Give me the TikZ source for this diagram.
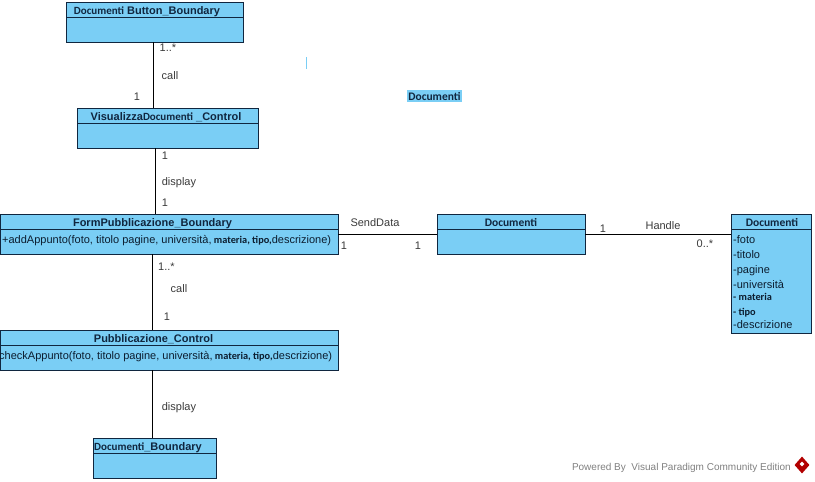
\documentclass[tikz,border=0pt]{standalone}
\usepackage{fontspec}
\setmainfont{Liberation Sans}
\newfontfamily\carl{Carlito}
\usetikzlibrary{shapes.geometric}
\definecolor{umlblue}{HTML}{7ACEF5}
\definecolor{umlink}{HTML}{10263F}
\definecolor{umlgrey}{HTML}{3A3A3A}
\tikzset{
  classbox/.style={draw=umlink,fill=umlblue,line width=0.9pt,inner sep=0pt,minimum height=40pt},
  classhead/.style={draw=umlink,line width=0.9pt,inner sep=0pt,minimum height=15pt,anchor=north},
  classtitle/.style={inner sep=0pt,anchor=base,text=umlink,font=\fontsize{11}{13}\selectfont\bfseries},
  classtext/.style={inner sep=0pt,anchor=base west,text=umlink!75!black,font=\fontsize{11}{13}\selectfont},
  assoc/.style={draw=black,line width=0.8pt},
  tag/.style={inner sep=0pt,text=umlgrey,font=\fontsize{11}{12}\selectfont},
}
\newcommand{\cb}[1]{{\carl\fontsize{11.5}{12}\selectfont\bfseries #1}}
\newcommand{\cm}[1]{{\carl\fontsize{11}{12}\selectfont\bfseries #1}}
\newcommand{\cs}[1]{{\carl\fontsize{10.3}{12}\selectfont\bfseries #1}}
\begin{document}
\begin{tikzpicture}[x=1pt,y=-1pt]
  \useasboundingbox (0,0) rectangle (815,482);
  % classes
  \node[classbox,minimum width=177pt] (button) at (154.5,22) {};
  \node[classhead,minimum width=177pt] (buttonhead) at (button.north) {};
  \node[classtitle] (buttontitle) at (147,14) {\cm{Documenti} Button\_Boundary};
  \node[classbox,minimum width=181pt] (visual) at (167.5,128) {};
  \node[classhead,minimum width=181pt] (visualhead) at (visual.north) {};
  \node[classtitle] (visualtitle) at (166,120) {Visualizza\cm{Documenti} \_Control};
  \node[classbox,minimum width=338pt] (form) at (169,234) {};
  \node[classhead,minimum width=338pt] (formhead) at (form.north) {};
  \node[classtitle] (formtitle) at (152.5,226) {FormPubblicazione\_Boundary};
  \node[classbox,minimum width=338pt] (pubb) at (169,350) {};
  \node[classhead,minimum width=338pt] (pubbhead) at (pubb.north) {};
  \node[classtitle] (pubbtitle) at (153.5,342) {Pubblicazione\_Control};
  \node[classbox,minimum width=123pt] (docbound) at (154.5,458) {};
  \node[classhead,minimum width=123pt] (docboundhead) at (docbound.north) {};
  \node[classtitle] (docboundtitle) at (148,450) {\cm{Documenti}\_Boundary};
  \node[classbox,minimum width=148pt] (docctrl) at (511,234) {};
  \node[classhead,minimum width=148pt] (docctrlhead) at (docctrl.north) {};
  \node[classtitle] (docctrltitle) at (511,226) {\cb{Documenti}};
  \node[classbox,minimum width=80pt,minimum height=119pt] (entity) at (771,273.5) {};
  \node[classhead,minimum width=80pt] (entityhead) at (entity.north) {};
  \node[classtitle] (entitytitle) at (772,226) {\cb{Documenti}};
  % operations
  \node[classtext] (addop) at (2,243) {+addAppunto(foto, titolo pagine, università,\cs{ materia, tipo,}descrizione)};
  \node[classtext] (checkop) at (-1,359) {checkAppunto(foto, titolo pagine, università,\cs{ materia, tipo,}descrizione)};
  % attributes
  \node[classtext] (attra) at (733,243) {-foto};
  \node[classtext] (attrb) at (733,258) {-titolo};
  \node[classtext] (attrc) at (733,273) {-pagine};
  \node[classtext] (attrd) at (733,288) {-università};
  \node[classtext] (attre) at (733,300) {\cs{- materia}};
  \node[classtext] (attrf) at (733,315) {\cs{- tipo}};
  \node[classtext] (attrg) at (733,328) {-descrizione};
  % connectors
  \coordinate (lineone) at (153.5,0);
  \coordinate (linetwo) at (155.5,0);
  \coordinate (linethree) at (152.5,0);
  \draw[assoc] (lineone |- button.south) -- (lineone |- visual.north);
  \draw[assoc] (linetwo |- visual.south) -- (linetwo |- form.north);
  \draw[assoc] (linethree |- form.south) -- (linethree |- pubb.north);
  \draw[assoc] (linethree |- pubb.south) -- (linethree |- docbound.north);
  \draw[assoc] (form.east) -- (docctrl.west);
  \draw[assoc] (docctrl.east) -- (entity.west |- docctrl.east);
  % labels
  \node[tag] (mula) at (168,48) {1..*};
  \node[tag] (calla) at (170,75.5) {call};
  \node[tag] (mulb) at (137,97) {1};
  \node[tag] (mulc) at (165,156) {1};
  \node[tag] (displaya) at (179,182.5) {display};
  \node[tag] (muld) at (165,203) {1};
  \node[tag] (mule) at (166.5,267) {1..*};
  \node[tag] (callb) at (179,288.5) {call};
  \node[tag] (mulf) at (167,317) {1};
  \node[tag] (displayb) at (179,407.5) {display};
  \node[tag] (sendlabel) at (375,222.5) {SendData};
  \node[tag] (mulg) at (344,246) {1};
  \node[tag] (mulh) at (418,246) {1};
  \node[tag] (handlelabel) at (663,225.5) {Handle};
  \node[tag] (muli) at (603,229) {1};
  \node[tag] (mulj) at (705,244) {0..*};
  % stray bits
  \node[fill=umlblue,inner sep=0pt,minimum width=1.2pt,minimum height=12pt] (mark) at (306.5,62.5) {};
  \node[fill=umlblue,inner sep=0pt,minimum width=55pt,minimum height=12pt,text=umlink] (floattitle) at (434.5,96) {\cb{Documenti}};
  % footer
  \node[inner sep=0pt,anchor=base east,text=black!50,font=\fontsize{10}{12}\selectfont] (powered) at (791,470) {Powered By\ \ Visual Paradigm Community Edition};
  \node[diamond,fill=red!70!black,inner sep=0pt,minimum width=15pt,minimum height=17pt] (logo) at (802,465) {};
  \node[diamond,fill=white,inner sep=0pt,minimum width=5pt,minimum height=5pt] (logoeye) at (802,464) {};
\end{tikzpicture}
\end{document}
